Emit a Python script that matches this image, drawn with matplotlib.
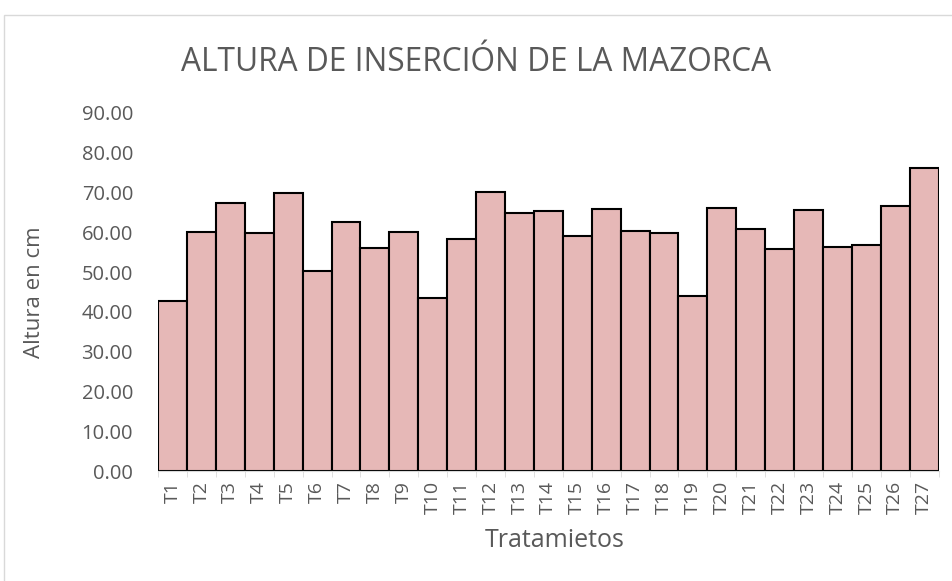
import numpy as np
import matplotlib
matplotlib.use("Agg")
import matplotlib.pyplot as plt
from matplotlib.patches import Rectangle

plt.rcParams['font.family'] = ['Open Sans', 'DejaVu Sans']

tratamientos = ["T" + str(i) for i in range(1, 28)]
altura = [42.7, 60.0, 67.3, 59.7, 69.9, 50.3, 62.6, 56.1, 60.0, 43.6,
          58.4, 70.0, 64.9, 65.3, 59.0, 65.9, 60.3, 59.7, 44.0, 66.0,
          60.7, 55.7, 65.7, 56.4, 56.7, 66.7, 76.0]
yticks = np.arange(0, 100, 10)

text_color = "#595959"

fig = plt.figure(figsize=(9.52, 5.81), dpi=100)
ax = fig.add_axes([0.166, 0.189, 0.820, 0.617])

x = np.arange(len(tratamientos))
ax.bar(x, altura, width=1.0, color="#E6B8B7", edgecolor="black", linewidth=1.5)

ax.set_xlim(-0.5, len(tratamientos) - 0.5)
ax.set_ylim(0, 90)
ax.set_yticks(yticks)
ax.set_yticklabels([f"{v:.2f}" for v in yticks], fontsize=14.5, color=text_color)
ax.set_xticks(x)
ax.set_xticklabels(tratamientos, rotation=90, fontsize=14, color=text_color)
ax.set_xticks(np.arange(-0.5, len(tratamientos)), minor=True)
ax.tick_params(axis="y", length=0, pad=18)
ax.tick_params(axis="x", which="major", length=0, pad=7)
ax.tick_params(axis="x", which="minor", length=4, color="#D9D9D9")

for s in ["top", "right", "left"]:
    ax.spines[s].set_visible(False)
ax.spines["bottom"].set_color("#D9D9D9")

fig.text(0.036, 0.497, "Altura en cm", rotation=90, ha="center", va="center",
         fontsize=16, color=text_color)
fig.text(0.583, 0.069, "Tratamietos", ha="center", va="center",
         fontsize=18, color=text_color)
fig.text(0.5, 0.893, "ALTURA DE INSERCIÓN DE LA MAZORCA", ha="center", va="center",
         fontsize=22.8, color=text_color)

fig.patches.append(Rectangle((4 / 952, -0.01), 1.0, 1 - 15 / 581 + 0.01,
                             transform=fig.transFigure, fill=False,
                             edgecolor="#D9D9D9", linewidth=1))

fig.savefig("out.png", dpi=100)
